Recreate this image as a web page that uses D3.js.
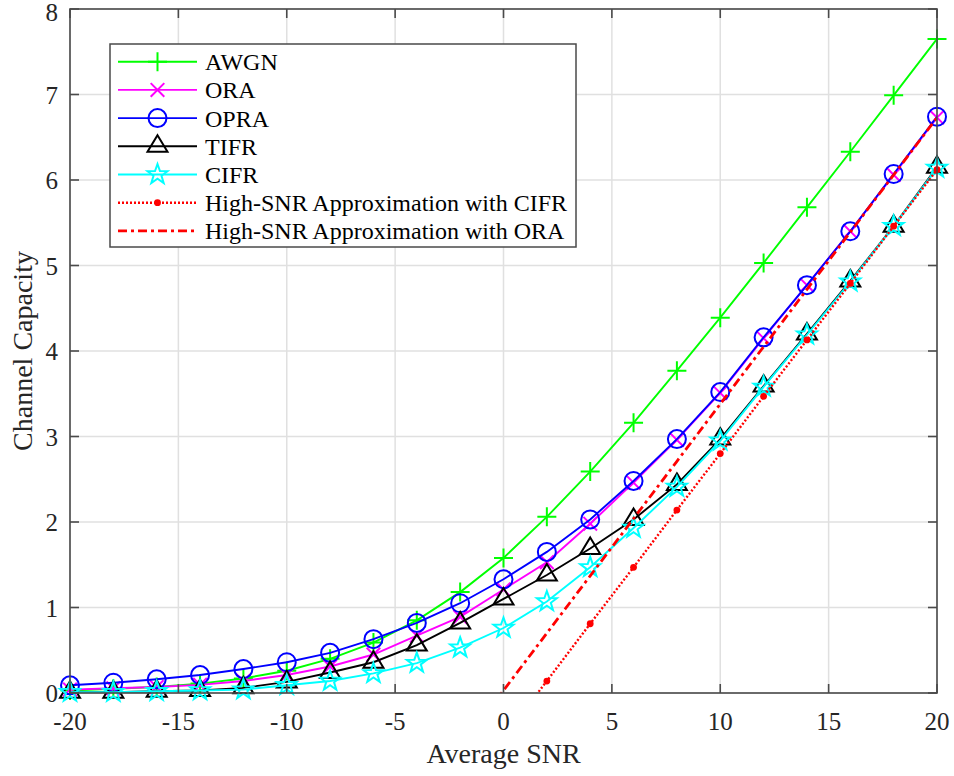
<!DOCTYPE html>
<html>
<head>
<meta charset="utf-8">
<script src="https://cdn.jsdelivr.net/npm/d3@7"></script>
<style>
  html, body { margin: 0; padding: 0; background: #fff; }
  svg { display: block; }
  svg text { font-family: "Liberation Serif", "Times New Roman", serif; }
</style>
</head>
<body>
<svg id="chart" width="954" height="776"></svg>
<script>
// Average SNR (dB) at each marker
const snr = [-20, -18, -16, -14, -12, -10, -8, -6, -4, -2, 0, 2, 4, 6, 8, 10, 12, 14, 16, 18, 20];

// Channel capacity
const awgn = [0.03, 0.05, 0.07, 0.11, 0.17, 0.26, 0.40, 0.59, 0.85, 1.18, 1.58, 2.06, 2.59, 3.16, 3.77, 4.39, 5.03, 5.68, 6.33, 6.99, 7.65];
const ora = [0.04, 0.055, 0.07, 0.095, 0.14, 0.21, 0.31, 0.45, 0.67, 0.89, 1.21, 1.53, 1.98, 2.46, 2.96, 3.51, 4.15, 4.77, 5.40, 6.06, 6.73];
const opra = [0.09, 0.12, 0.16, 0.21, 0.28, 0.36, 0.47, 0.63, 0.82, 1.05, 1.33, 1.65, 2.03, 2.48, 2.97, 3.52, 4.16, 4.77, 5.40, 6.07, 6.74];
const tifr = [0.01, 0.01, 0.02, 0.03, 0.06, 0.13, 0.24, 0.36, 0.56, 0.82, 1.10, 1.38, 1.69, 2.03, 2.44, 2.97, 3.59, 4.20, 4.82, 5.46, 6.15];
const cifr = [0.01, 0.01, 0.02, 0.03, 0.04, 0.09, 0.14, 0.23, 0.35, 0.53, 0.76, 1.07, 1.47, 1.93, 2.41, 2.95, 3.58, 4.19, 4.81, 5.46, 6.14];
const approxCifr = [-7.16, -6.50, -5.83, -5.17, -4.51, -3.84, -3.18, -2.51, -1.85, -1.18, -0.52, 0.14, 0.81, 1.47, 2.14, 2.80, 3.47, 4.13, 4.79, 5.46, 6.12];
const approxOra = [-6.67, -6.00, -5.33, -4.66, -3.99, -3.32, -2.65, -1.98, -1.31, -0.64, 0.03, 0.70, 1.37, 2.04, 2.71, 3.38, 4.05, 4.72, 5.39, 6.06, 6.73];

// Tick values
const xTicks = [-20, -15, -10, -5, 0, 5, 10, 15, 20];
const yTicks = [0, 1, 2, 3, 4, 5, 6, 7, 8];

const labels = ['AWGN', 'ORA', 'OPRA', 'TIFR', 'CIFR',
  'High-SNR Approximation with CIFR', 'High-SNR Approximation with ORA'];

// Series styles (plot order = legend order)
const series = [
  { name: labels[0], values: awgn, color: '#00ff00', marker: 'plus', dash: null, width: 1.9 },
  { name: labels[1], values: ora, color: '#ff00ff', marker: 'x', dash: null, width: 1.9 },
  { name: labels[2], values: opra, color: '#0000ff', marker: 'circle', dash: null, width: 1.9 },
  { name: labels[3], values: tifr, color: '#000000', marker: 'triangle', dash: null, width: 1.9 },
  { name: labels[4], values: cifr, color: '#00ffff', marker: 'star', dash: null, width: 1.9 },
  { name: labels[5], values: approxCifr, color: '#ff0000', marker: 'dot', dash: '2,2', width: 2.4 },
  { name: labels[6], values: approxOra, color: '#ff0000', marker: null, dash: '9,4,3,4', width: 2.8 }
];

const width = 954, height = 776;
const margin = { top: 9, right: 17, bottom: 83, left: 70 };
const iw = width - margin.left - margin.right;
const ih = height - margin.top - margin.bottom;

const svg = d3.select('#chart');
const g = svg.append('g').attr('transform', `translate(${margin.left},${margin.top})`);

const x = d3.scaleLinear().domain([-20, 20]).range([0, iw]);
const y = d3.scaleLinear().domain([0, 8]).range([ih, 0]);

// Grid
g.append('g').selectAll('line').data(xTicks).join('line')
  .attr('x1', d => x(d)).attr('x2', d => x(d))
  .attr('y1', 0).attr('y2', ih)
  .attr('stroke', '#e0e0e0').attr('stroke-width', 1.5);
g.append('g').selectAll('line').data(yTicks).join('line')
  .attr('y1', d => y(d)).attr('y2', d => y(d))
  .attr('x1', 0).attr('x2', iw)
  .attr('stroke', '#e0e0e0').attr('stroke-width', 1.5);

// Clip for lines
svg.append('defs').append('clipPath').attr('id', 'plotClip')
  .append('rect').attr('width', iw).attr('height', ih);

// Marker shapes
function drawMarker(sel, type, color) {
  const s = 9.5, sw = 2;
  if (type === 'plus') {
    sel.append('path').attr('d', `M${-s},0H${s}M0,${-s}V${s}`)
      .attr('stroke', color).attr('stroke-width', sw).attr('fill', 'none');
  } else if (type === 'x') {
    const t = 6.8;
    sel.append('path').attr('d', `M${-t},${-t}L${t},${t}M${-t},${t}L${t},${-t}`)
      .attr('stroke', color).attr('stroke-width', sw).attr('fill', 'none');
  } else if (type === 'circle') {
    sel.append('circle').attr('r', 9)
      .attr('stroke', color).attr('stroke-width', sw).attr('fill', 'none');
  } else if (type === 'triangle') {
    // centroid at the data point
    const h = 16.5, w = 10;
    sel.append('path').attr('d', `M0,${-h * 2 / 3}L${w},${h / 3}L${-w},${h / 3}Z`)
      .attr('stroke', color).attr('stroke-width', sw).attr('fill', 'none');
  } else if (type === 'star') {
    const pts = d3.range(10).map(i => {
      const r = i % 2 === 0 ? 10.5 : 4.2;
      const a = -Math.PI / 2 + i * Math.PI / 5;
      return [r * Math.cos(a), r * Math.sin(a)];
    });
    sel.append('path').attr('d', 'M' + pts.map(p => p.join(',')).join('L') + 'Z')
      .attr('stroke', color).attr('stroke-width', sw).attr('fill', 'none');
  } else if (type === 'dot') {
    sel.append('circle').attr('r', 3.4).attr('fill', color);
  }
}

const line = d3.line().x((d, i) => x(snr[i])).y(d => y(d));

series.forEach(s => {
  g.append('path')
    .datum(s.values)
    .attr('clip-path', 'url(#plotClip)')
    .attr('d', line)
    .attr('fill', 'none')
    .attr('stroke', s.color)
    .attr('stroke-width', s.width)
    .attr('stroke-dasharray', s.dash);

  if (s.marker) {
    const pts = s.values.map((v, i) => [snr[i], v]).filter(p => p[1] >= 0 && p[1] <= 8);
    pts.forEach(p => {
      const m = g.append('g').attr('transform', `translate(${x(p[0])},${y(p[1])})`);
      drawMarker(m, s.marker, s.color);
    });
  }
});

// Axes box with inward ticks
const axisColor = '#4a4a4a';
g.append('rect').attr('width', iw).attr('height', ih)
  .attr('fill', 'none').attr('stroke', axisColor).attr('stroke-width', 1.6);
const tl = 9;
xTicks.forEach(t => {
  g.append('line').attr('x1', x(t)).attr('x2', x(t)).attr('y1', ih).attr('y2', ih - tl)
    .attr('stroke', axisColor).attr('stroke-width', 1.6);
  g.append('line').attr('x1', x(t)).attr('x2', x(t)).attr('y1', 0).attr('y2', tl)
    .attr('stroke', axisColor).attr('stroke-width', 1.6);
});
yTicks.forEach(t => {
  g.append('line').attr('x1', 0).attr('x2', tl).attr('y1', y(t)).attr('y2', y(t))
    .attr('stroke', axisColor).attr('stroke-width', 1.6);
  g.append('line').attr('x1', iw).attr('x2', iw - tl).attr('y1', y(t)).attr('y2', y(t))
    .attr('stroke', axisColor).attr('stroke-width', 1.6);
});

// Tick labels
g.append('g').selectAll('text').data(xTicks).join('text')
  .attr('x', d => x(d)).attr('y', ih + 37)
  .attr('text-anchor', 'middle')
  .attr('font-size', 25).attr('fill', '#262626')
  .text(d => d);
// the top label sits a little lower so it stays inside the picture
g.append('g').selectAll('text').data(yTicks).join('text')
  .attr('x', -12).attr('y', d => d === 8 ? y(d) + 12 : y(d) + 9)
  .attr('text-anchor', 'end')
  .attr('font-size', 25).attr('fill', '#262626')
  .text(d => d);

// Axis labels
svg.append('text')
  .attr('x', margin.left + x(0)).attr('y', 763)
  .attr('text-anchor', 'middle')
  .attr('font-size', 28).attr('fill', '#262626')
  .text('Average SNR');
svg.append('text')
  .attr('transform', `translate(32,${margin.top + ih / 2}) rotate(-90)`)
  .attr('text-anchor', 'middle')
  .attr('font-size', 28).attr('fill', '#262626')
  .text('Channel Capacity');

// Legend
const legend = svg.append('g').attr('transform', 'translate(110,44)');
legend.append('rect').attr('width', 466).attr('height', 203)
  .attr('fill', '#fff').attr('stroke', '#4a4a4a').attr('stroke-width', 1.5);
series.forEach((s, i) => {
  const cy = 17.7 + i * 28.2;
  legend.append('line').attr('x1', 8).attr('x2', 87).attr('y1', cy).attr('y2', cy)
    .attr('stroke', s.color).attr('stroke-width', s.width)
    .attr('stroke-dasharray', s.dash);
  if (s.marker) {
    const m = legend.append('g').attr('transform', `translate(47.5,${cy})`);
    drawMarker(m, s.marker, s.color);
  }
  legend.append('text').attr('x', 95).attr('y', cy + 8.5)
    .attr('font-size', 24).attr('fill', '#000')
    .text(s.name);
});
</script>
</body>
</html>
